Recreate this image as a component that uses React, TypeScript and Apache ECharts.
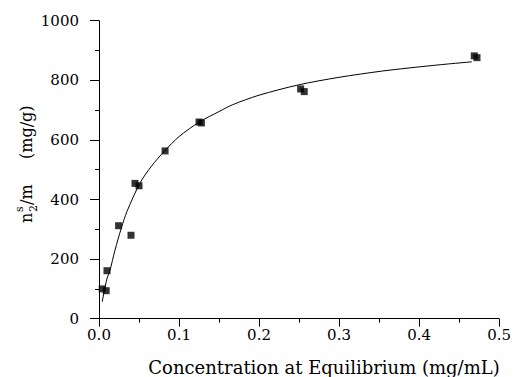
import React, { useEffect, useRef } from "react";
import * as echarts from "echarts";

// Measured adsorption data (concentration mg/mL, n2s/m mg/g)
const measuredX = [0.004, 0.009, 0.010, 0.0245, 0.040, 0.045, 0.050, 0.0826, 0.125, 0.128, 0.252, 0.2565, 0.469, 0.4724];
const measuredY = [100, 94, 161, 312, 280, 454, 446, 563, 660, 657, 771, 762, 882, 876];

// Fitted curve
const curveX = [0.004, 0.010, 0.0135, 0.020, 0.028, 0.035, 0.051, 0.065, 0.082, 0.100, 0.126, 0.150, 0.167, 0.200, 0.250, 0.300, 0.354, 0.400, 0.437, 0.466];
const curveY = [57, 135, 160, 230, 305, 360, 454, 510, 563, 611, 661, 695, 718, 750, 785, 810, 831, 845, 855, 862];

const xTicks = ["0.0", "0.1", "0.2", "0.3", "0.4", "0.5"];
const yTicks = ["0", "200", "400", "600", "800", "1000"];

const FONT = "DejaVu Serif";
const INK = "#000";

const txt = (text: string, x: number, y: number, size: number) => ({
  type: "text",
  x,
  y,
  style: { text, fontFamily: FONT, fontSize: size, fill: INK, align: "left", verticalAlign: "middle" },
});

export default function App() {
  const ref = useRef<HTMLDivElement>(null);
  useEffect(() => {
    if (!ref.current) return;
    const chart = echarts.init(ref.current, null, { renderer: "svg" });
    const scatter = measuredX.map((x, i) => [x, measuredY[i]]);
    const curve = curveX.map((x, i) => [x, curveY[i]]);
    chart.setOption({
      animation: false,
      backgroundColor: "#fff",
      grid: { left: 99, right: 13, top: 20.7, bottom: 58.3, containLabel: false },
      xAxis: {
        type: "value",
        min: 0,
        max: 0.5,
        interval: 0.1,
        splitLine: { show: false },
        axisLine: { show: true, onZero: false, lineStyle: { color: INK, width: 1 } },
        axisTick: { show: true, inside: false, length: 8, lineStyle: { color: INK } },
        minorTick: { show: true, splitNumber: 2, length: 4, lineStyle: { color: INK } },
        axisLabel: {
          margin: 9,
          fontFamily: FONT,
          fontSize: 15,
          color: INK,
          formatter: (v: number) => xTicks[Math.round(v * 10)] ?? "",
        },
      },
      yAxis: {
        type: "value",
        min: 0,
        max: 1000,
        interval: 200,
        splitLine: { show: false },
        axisLine: { show: true, onZero: false, lineStyle: { color: INK, width: 1 } },
        axisTick: { show: true, inside: false, length: 9, lineStyle: { color: INK } },
        minorTick: { show: true, splitNumber: 2, length: 4, lineStyle: { color: INK } },
        axisLabel: {
          margin: 20,
          fontFamily: FONT,
          fontSize: 15,
          color: INK,
          formatter: (v: number) => yTicks[Math.round(v / 200)] ?? "",
        },
      },
      graphic: [
        {
          type: "text",
          x: 324,
          y: 367,
          style: {
            text: "Concentration at Equilibrium (mg/mL)",
            fontFamily: FONT,
            fontSize: 18,
            fill: INK,
            align: "center",
            verticalAlign: "middle",
          },
        },
        {
          type: "group",
          x: 32,
          y: 163,
          rotation: Math.PI / 2,
          children: [
            txt("n", -60, -6, 16),
            txt("s", -49, -13, 11),
            txt("2", -49, 1, 11),
            txt("/m", -42, -6, 16),
            txt("(mg/g)", 4, -6, 16),
          ],
        },
      ],
      series: [
        {
          type: "line",
          data: curve,
          smooth: 0.3,
          showSymbol: false,
          symbol: "none",
          lineStyle: { color: INK, width: 1 },
          z: 2,
        },
        {
          type: "scatter",
          data: scatter,
          symbol: "rect",
          symbolSize: 7,
          itemStyle: { color: INK },
          z: 3,
        },
      ],
    });
    return () => chart.dispose();
  }, []);
  return <div ref={ref} style={{ width: 514, height: 377, position: "absolute", left: 0, top: 0 }} />;
}
